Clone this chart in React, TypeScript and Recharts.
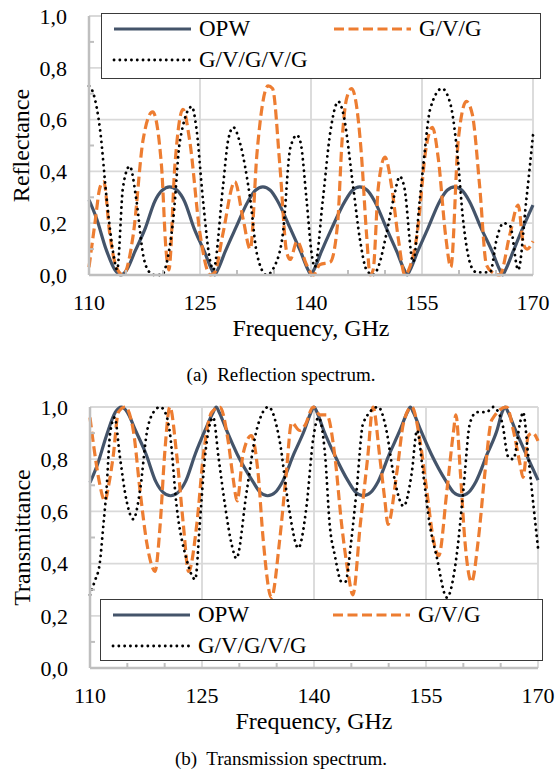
import React from 'react';
import { LineChart, Line, XAxis, YAxis, CartesianGrid, Legend, Label } from 'recharts';

const FONT = '"Liberation Serif", "Times New Roman", Times, serif';

const frequencyTicks = [110, 115, 120, 125, 130, 135, 140, 145, 150, 155, 160, 165, 170];
const frequencyLabels = [110, 125, 140, 155, 170];
const frequencyGrid = [125, 140, 155, 170];
const valueTicks = [0, 0.1, 0.2, 0.3, 0.4, 0.5, 0.6, 0.7, 0.8, 0.9, 1];
const valueGrid = [0.2, 0.4, 0.6, 0.8, 1];
const seriesNames = ['OPW', 'G/V/G', 'G/V/G/V/G'];
const captions = ['(a)  Reflection spectrum.', '(b)  Transmission spectrum.'];
const xTitle = 'Frequency, GHz';
const yTitles = ['Reflectance', 'Transmittance'];

// [frequency (GHz), value]
const opwReflectance: [number, number][] = [
  [110, 0.29], [111, 0.22], [112.3, 0.1], [113.5, 0.02], [114.3, 0], [115.1, 0.02], [116.2, 0.09], [117.6, 0.18],
  [118.9, 0.285], [119.9, 0.327], [120.9, 0.34], [121.9, 0.327], [122.9, 0.285], [124.2, 0.18], [125.6, 0.09],
  [126.6, 0.02], [127, 0], [127.4, 0.02], [128.4, 0.09], [129.8, 0.18], [131.5, 0.285], [132.5, 0.327], [133.5, 0.34],
  [134.5, 0.327], [135.5, 0.285], [137.2, 0.18], [138.6, 0.09], [139.6, 0.02], [140, 0], [140.4, 0.02], [141.4, 0.09],
  [142.8, 0.18], [144.6, 0.285], [145.6, 0.327], [146.6, 0.34], [147.6, 0.327], [148.6, 0.285], [150.2, 0.18],
  [151.6, 0.09], [152.6, 0.02], [153, 0], [153.4, 0.02], [154.4, 0.09], [155.8, 0.18], [157.4, 0.285], [158.4, 0.327],
  [159.4, 0.34], [160.4, 0.327], [161.4, 0.285], [163, 0.18], [164.5, 0.09], [165.5, 0.02], [165.9, 0], [166.3, 0.02],
  [167.3, 0.09], [168.6, 0.18], [170, 0.27],
];

const gvgReflectance: [number, number][] = [
  [110, 0.03], [110.8, 0.2], [111.5, 0.34], [112, 0.36], [112.8, 0.16], [113.7, 0.03], [114.6, 0], [116, 0.16],
  [117.3, 0.52], [118.6, 0.63], [119.8, 0.42], [120.4, 0.1], [120.8, 0.02], [121.6, 0.42], [122.7, 0.64], [123.6, 0.52],
  [125, 0.16], [126.4, 0], [127, 0.01], [128.1, 0.16], [129.7, 0.36], [130.8, 0.22], [131.8, 0.1], [132.7, 0.47],
  [134.2, 0.73], [134.8, 0.72], [135.8, 0.42], [136.7, 0.09], [137.2, 0.06], [138.1, 0.13], [139.4, 0.04], [140.3, 0],
  [141.2, 0.04], [142.6, 0.05], [143.6, 0.2], [144.2, 0.52], [144.8, 0.68], [145.5, 0.72], [146, 0.68], [146.8, 0.47],
  [147.5, 0.16], [148, 0], [148.4, 0.02], [149.1, 0.34], [150, 0.455], [150.9, 0.34], [151.8, 0.14], [152.7, 0],
  [153.2, 0.02], [154.3, 0.15], [155.6, 0.5], [156.4, 0.57], [157.2, 0.45], [158.2, 0.15], [158.9, 0.03], [159.9, 0.52],
  [161, 0.67], [161.8, 0.62], [162.8, 0.34], [163.7, 0.04], [164.5, 0.01], [165.5, 0], [166.9, 0.16], [168, 0.27],
  [168.7, 0.12], [169.2, 0.1], [170, 0.13],
];

const gvgvgReflectance: [number, number][] = [
  [110, 0.73], [110.6, 0.7], [111.5, 0.56], [112.4, 0.29], [113.3, 0.08], [113.8, 0.02], [114.6, 0.34], [115.5, 0.42],
  [116.4, 0.29], [117.3, 0.08], [118.2, 0.01], [118.9, 0], [119.8, 0], [120.6, 0.06], [121.4, 0.22], [122.3, 0.52],
  [123.9, 0.65], [124.5, 0.57], [125.4, 0.29], [126.4, 0.05], [126.8, 0.02], [128.1, 0.34], [128.8, 0.52], [129.5, 0.57],
  [130.4, 0.51], [131.8, 0.29], [132.7, 0.08], [134, 0], [135, 0.03], [136.2, 0.16], [137.2, 0.49], [138.1, 0.54],
  [138.6, 0.51], [139.4, 0.29], [140.1, 0.08], [140.5, 0.03], [141.6, 0.29], [142.6, 0.55], [143.7, 0.67], [144.3, 0.63],
  [145.7, 0.34], [146.6, 0.14], [147.5, 0.02], [148.4, 0], [149.2, 0.04], [150.2, 0.16], [151.2, 0.3], [152, 0.38],
  [152.6, 0.34], [153.8, 0.05], [154.7, 0.29], [155.2, 0.43], [156.1, 0.64], [157.7, 0.72], [158.5, 0.69], [159, 0.64],
  [159.7, 0.49], [160.6, 0.2], [161.7, 0.03], [162.4, 0.01], [164.2, 0.01], [165.1, 0.14], [166, 0.2], [166.9, 0.19],
  [168, 0.02], [169.1, 0.29], [170, 0.54],
];

const opwTransmittance: [number, number][] = [
  [110, 0.71], [111, 0.78], [112.2, 0.89], [113.4, 0.98], [114.2, 1], [115, 0.98], [116.1, 0.91], [117.5, 0.82],
  [118.8, 0.715], [119.8, 0.673], [120.8, 0.66], [121.8, 0.673], [122.8, 0.715], [124.1, 0.82], [125.4, 0.91],
  [126.5, 0.98], [126.9, 1], [127.3, 0.98], [128.3, 0.91], [129.7, 0.82], [131.8, 0.715], [132.8, 0.673], [133.8, 0.66],
  [134.8, 0.673], [135.8, 0.715], [137.3, 0.82], [138.7, 0.91], [139.6, 0.98], [140, 1], [140.4, 0.98], [141.3, 0.91],
  [142.7, 0.82], [144.6, 0.715], [145.6, 0.673], [146.6, 0.66], [147.6, 0.673], [148.6, 0.715], [150.1, 0.82],
  [151.5, 0.91], [152.5, 0.98], [152.9, 1], [153.3, 0.98], [154.3, 0.91], [155.7, 0.82], [157.7, 0.715], [158.7, 0.673],
  [159.7, 0.66], [160.7, 0.673], [161.7, 0.715], [163.2, 0.82], [164.5, 0.91], [165.2, 0.98], [165.6, 1], [166, 0.98],
  [167, 0.91], [168.4, 0.82], [170, 0.72],
];

const gvgTransmittance: [number, number][] = [
  [110, 0.96], [110.5, 0.85], [111.2, 0.72], [112, 0.64], [112.5, 0.7], [113.1, 0.81], [113.8, 0.98], [114.7, 1],
  [115.8, 0.91], [116.7, 0.68], [117.6, 0.48], [118.3, 0.39], [118.7, 0.37], [119.4, 0.55], [120, 0.82], [120.7, 1],
  [121.6, 0.82], [122.5, 0.55], [123.2, 0.37], [124.3, 0.55], [125.2, 0.82], [126.3, 0.98], [127.4, 1], [128.5, 0.87],
  [129.2, 0.72], [129.7, 0.64], [130.5, 0.82], [131.6, 0.89], [132.5, 0.75], [133.2, 0.49], [134.3, 0.27], [135.4, 0.49],
  [136.3, 0.75], [137, 0.94], [138.1, 0.91], [138.8, 0.93], [139.9, 1], [140.8, 0.97], [141.7, 0.97], [142.8, 0.81],
  [143.7, 0.55], [144.6, 0.36], [145.2, 0.28], [146.2, 0.55], [147.2, 0.81], [147.9, 1], [148.8, 0.81], [149.5, 0.64],
  [149.9, 0.55], [151.1, 0.75], [152, 0.94], [153.1, 1], [154.2, 0.87], [155.1, 0.68], [156, 0.49], [156.7, 0.43],
  [157.8, 0.68], [158.7, 0.91], [159, 0.97], [159.6, 0.75], [160.2, 0.49], [161.1, 0.33], [162, 0.49], [162.9, 0.75],
  [163.8, 0.95], [165.8, 1], [166.7, 0.91], [167.6, 0.78], [168, 0.73], [168.7, 0.89], [169.3, 0.9], [170, 0.87],
];

const gvgvgTransmittance: [number, number][] = [
  [110, 0.28], [110.6, 0.33], [111.3, 0.4], [111.8, 0.55], [112.2, 0.68], [112.7, 0.9], [113.3, 0.96], [114, 0.81],
  [114.9, 0.64], [115.8, 0.57], [116.7, 0.68], [117.6, 0.9], [118.5, 0.98], [119.4, 1], [120.2, 0.97], [120.7, 0.9],
  [121.6, 0.62], [122.9, 0.42], [124.1, 0.34], [124.7, 0.55], [125.4, 0.81], [126.5, 0.96], [127.2, 0.81], [128.1, 0.62],
  [129, 0.47], [129.6, 0.42], [131, 0.68], [132.3, 0.91], [133.9, 1], [135.4, 0.87], [136.6, 0.62], [137.9, 0.46],
  [139, 0.62], [139.9, 0.88], [140.6, 0.96], [141.5, 0.81], [142.1, 0.55], [142.8, 0.43], [143.7, 0.33], [144.2, 0.33],
  [145, 0.49], [145.7, 0.68], [146.6, 0.94], [148.6, 1], [149.7, 0.91], [150.6, 0.75], [152, 0.62], [153.1, 0.75],
  [153.8, 0.91], [154.6, 0.75], [155.5, 0.55], [156.4, 0.43], [157.8, 0.27], [159.1, 0.43], [160, 0.68], [160.9, 0.94],
  [161.8, 0.98], [163.1, 0.98], [164, 1], [165.2, 0.94], [166, 0.81], [166.7, 0.8], [167.6, 0.94], [168, 0.98],
  [168.7, 0.81], [169.4, 0.62], [170, 0.46],
];

const seriesStyles = [
  { stroke: '#44546a', strokeWidth: 3.2, dash: undefined as string | undefined, cap: 'butt' as const },
  { stroke: '#ed7d31', strokeWidth: 3.2, dash: '10 4.5', cap: 'butt' as const },
  { stroke: '#000000', strokeWidth: 2.8, dash: '0.1 5.7', cap: 'round' as const },
];

const rows = (pts: [number, number][]) => pts.map(([f, v]) => ({ f, v }));

const AXIS_COLOR = '#bfbfbf';
const GRID_COLOR = '#d9d9d9';
const TICK_FONT = 22;
const TITLE_FONT = 24;
const LEGEND_FONT = 23;
const X_TICK_GAP = 27;

const makeXTick = (gap: number) => (props: any) => {
  const { x, y, payload } = props;
  const v = payload.value;
  const axisY = y - gap;
  if (frequencyLabels.includes(v)) {
    return (
      <text x={x} y={y} dy="0.355em" textAnchor="middle" fontFamily={FONT} fontSize={TICK_FONT} fill="#000">
        {v}
      </text>
    );
  }
  return <line x1={x} x2={x} y1={axisY} y2={axisY - 5} stroke={AXIS_COLOR} strokeWidth={2} />;
};

const makeYTick = (gap: number) => (props: any) => {
  const { x, y, payload } = props;
  const v = payload.value as number;
  const major = Math.round(v * 10) % 2 === 0;
  const axisX = x + gap;
  if (major) {
    return (
      <text x={x} y={y} dy="0.355em" textAnchor="end" fontFamily={FONT} fontSize={TICK_FONT} fill="#000">
        {v.toFixed(1).replace('.', ',')}
      </text>
    );
  }
  return <line x1={axisX} x2={axisX + 5} y1={y} y2={y} stroke={AXIS_COLOR} strokeWidth={2} />;
};

type LegendPos = { left: number; top: number; width: number; height: number; row2: number };

const LegendBox = ({ pos }: { pos: LegendPos }) => {
  const slots = [
    { left: 11, center: 16 },
    { left: 231, center: 16 },
    { left: 11, center: pos.row2 },
  ];
  return (
    <div
      style={{
        position: 'relative',
        width: pos.width,
        height: pos.height,
        boxSizing: 'border-box',
        border: '1.5px solid #3a3a3a',
        background: '#fff',
        fontFamily: FONT,
        fontSize: LEGEND_FONT,
        color: '#000',
      }}
    >
      {slots.map((s, i) => (
        <div
          key={seriesNames[i]}
          style={{
            position: 'absolute',
            left: s.left,
            top: s.center - 13.5,
            height: 24,
            display: 'flex',
            alignItems: 'center',
            whiteSpace: 'nowrap',
          }}
        >
          <svg width={78} height={10} style={{ display: 'block', overflow: 'visible' }}>
            <line
              x1={1}
              x2={78}
              y1={5}
              y2={5}
              stroke={seriesStyles[i].stroke}
              strokeWidth={seriesStyles[i].strokeWidth}
              strokeDasharray={seriesStyles[i].dash}
              strokeLinecap={seriesStyles[i].cap}
            />
          </svg>
          <span style={{ marginLeft: 8, lineHeight: '24px' }}>{seriesNames[i]}</span>
        </div>
      ))}
    </div>
  );
};

type SpectrumProps = {
  top: number;
  height: number;
  margin: { top: number; right: number; bottom: number; left: number };
  yWidth: number;
  yTitle: string;
  yTitleX: number;
  xTitleDy: number;
  series: [number, number][][];
  legend: LegendPos;
};

const Spectrum = ({ top, height, margin, yWidth, yTitle, yTitleX, xTitleDy, series, legend }: SpectrumProps) => (
  <div style={{ position: 'absolute', left: 0, top, width: 557, height }}>
    <LineChart width={557} height={height} margin={margin}>
      <CartesianGrid
        stroke={GRID_COLOR}
        strokeWidth={1.8}
        horizontalValues={valueGrid}
        verticalValues={frequencyGrid}
      />
      <XAxis
        type="number"
        dataKey="f"
        domain={[110, 170]}
        ticks={frequencyTicks}
        interval={0}
        height={62}
        tickSize={0}
        tickMargin={X_TICK_GAP}
        tickLine={false}
        axisLine={{ stroke: AXIS_COLOR, strokeWidth: 2.5 }}
        tick={makeXTick(X_TICK_GAP)}
      >
        <Label
          content={(p: any) => {
            const vb = p.viewBox || {};
            return (
              <text
                x={vb.x + vb.width / 2}
                y={vb.y + xTitleDy}
                textAnchor="middle"
                fontFamily={FONT}
                fontSize={TITLE_FONT}
                fill="#000"
              >
                {xTitle}
              </text>
            );
          }}
        />
      </XAxis>
      <YAxis
        type="number"
        domain={[0, 1]}
        ticks={valueTicks}
        interval={0}
        width={yWidth}
        tickSize={0}
        tickMargin={22}
        tickLine={false}
        axisLine={{ stroke: AXIS_COLOR, strokeWidth: 2.5 }}
        tick={makeYTick(22)}
      >
        <Label
          content={(p: any) => {
            const vb = p.viewBox || {};
            const cy = vb.y + vb.height / 2;
            return (
              <text
                x={yTitleX}
                y={cy}
                transform={`rotate(-90 ${yTitleX} ${cy})`}
                textAnchor="middle"
                dominantBaseline="central"
                fontFamily={FONT}
                fontSize={TITLE_FONT}
                fill="#000"
              >
                {yTitle}
              </text>
            );
          }}
        />
      </YAxis>
      <Legend
        layout="horizontal"
        verticalAlign="middle"
        align="center"
        content={() => <LegendBox pos={legend} />}
        wrapperStyle={{ left: legend.left, top: legend.top, width: legend.width, height: legend.height, margin: 0 }}
      />
      {series.map((pts, i) => (
        <Line
          key={seriesNames[i]}
          name={seriesNames[i]}
          data={rows(pts)}
          dataKey="v"
          type="monotone"
          dot={false}
          activeDot={false}
          isAnimationActive={false}
          stroke={seriesStyles[i].stroke}
          strokeWidth={seriesStyles[i].strokeWidth}
          strokeDasharray={seriesStyles[i].dash}
          strokeLinecap={seriesStyles[i].cap}
        />
      ))}
    </LineChart>
  </div>
);

const Caption = ({ text, centerY }: { text: string; centerY: number }) => (
  <div
    style={{
      position: 'absolute',
      left: 0,
      width: 562,
      top: centerY - 12,
      height: 24,
      lineHeight: '24px',
      textAlign: 'center',
      fontFamily: FONT,
      fontSize: 19,
      color: '#000',
      whiteSpace: 'pre',
    }}
  >
    {text}
  </div>
);

export default function App() {
  return (
    <div style={{ position: 'absolute', left: 0, top: 0, width: 557, height: 773, background: '#fff', overflow: 'hidden' }}>
      <Spectrum
        top={0}
        height={347}
        margin={{ top: 16, right: 24, bottom: 10, left: 0 }}
        yWidth={89}
        yTitle={yTitles[0]}
        yTitleX={21}
        xTitleDy={61}
        series={[opwReflectance, gvgReflectance, gvgvgReflectance]}
        legend={{ left: 101, top: 13, width: 440, height: 66, row2: 47.5 }}
      />
      <Caption text={captions[0]} centerY={375} />
      <Spectrum
        top={380}
        height={360}
        margin={{ top: 27, right: 19, bottom: 10, left: 0 }}
        yWidth={90}
        yTitle={yTitles[1]}
        yTitleX={22}
        xTitleDy={61}
        series={[opwTransmittance, gvgTransmittance, gvgvgTransmittance]}
        legend={{ left: 100, top: 219, width: 443, height: 62, row2: 47 }}
      />
      <Caption text={captions[1]} centerY={759} />
    </div>
  );
}
